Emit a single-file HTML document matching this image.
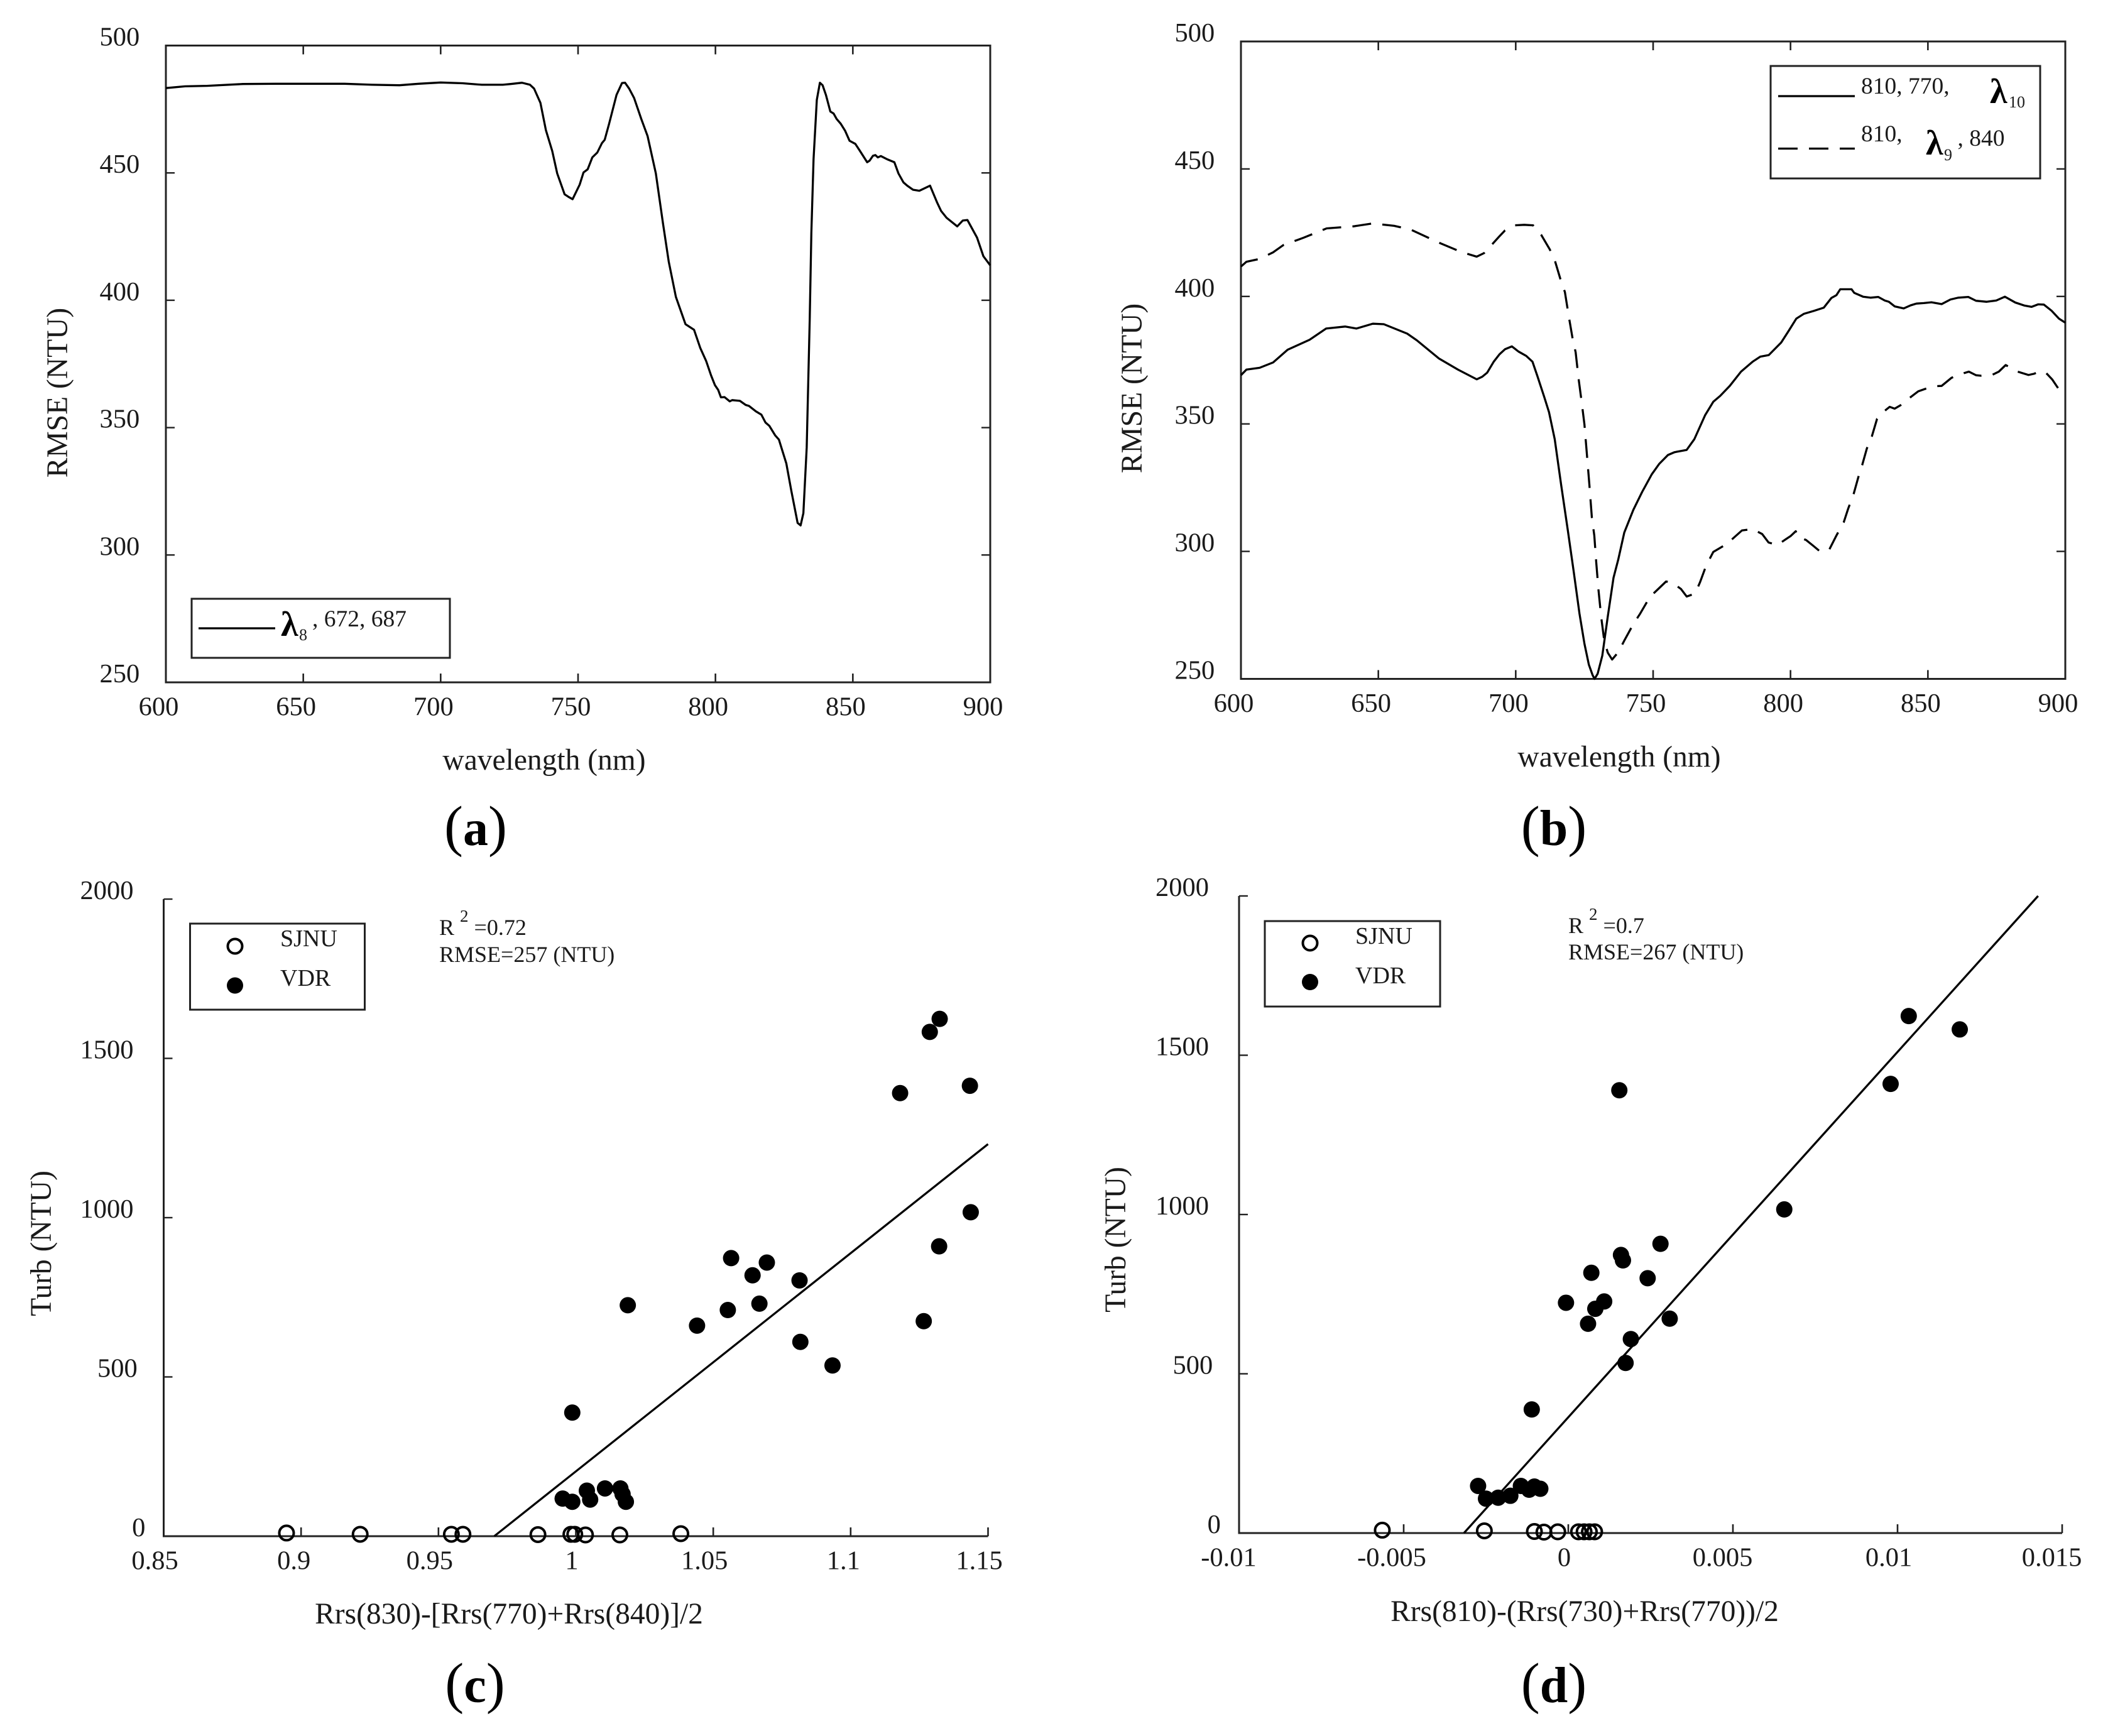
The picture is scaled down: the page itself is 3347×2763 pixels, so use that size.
<!DOCTYPE html>
<html lang="en">
<head>
<meta charset="utf-8">
<title>RMSE spectra and turbidity regressions</title>
<style>
html,body{margin:0;padding:0;background:#fff;}
svg{display:block;}
text{font-family:"Liberation Serif",serif;fill:#1a1a1a;}
.lam{font-weight:bold;font-size:56px;fill:#000;}
.sub{font-size:26px;}
.leg{font-size:37.5px;}
.legn{font-size:38px;}
.ann{font-size:36px;}
.cap{font-size:90px;fill:#000;}
.capb{font-weight:bold;font-size:80px;}
.axt{font-size:47.5px;}
.tick{font-size:42.5px;}
</style>
</head>
<body>
<svg id="figure" xmlns="http://www.w3.org/2000/svg" width="3347" height="2763" viewBox="0 0 3347 2763">
<rect width="3347" height="2763" fill="#fff"></rect>
<g id="panelA"></g>
<g id="panelB"></g>
<g id="panelC"></g>
<g id="panelD"></g>

<text class="axt" transform="translate(107,625) rotate(-90)" text-anchor="middle">RMSE (NTU)</text>
<text class="axt" x="866" y="1225" text-anchor="middle">wavelength (nm)</text>
<text class="cap" x="757" y="1345" text-anchor="middle">(<tspan class="capb">a</tspan>)</text>

<text class="axt" transform="translate(1817,618) rotate(-90)" text-anchor="middle">RMSE (NTU)</text>
<text class="axt" x="2577" y="1220" text-anchor="middle">wavelength (nm)</text>
<text class="cap" x="2473" y="1345" text-anchor="middle">(<tspan class="capb">b</tspan>)</text>

<text class="axt" transform="translate(81,1979) rotate(-90)" text-anchor="middle">Turb (NTU)</text>
<text class="axt" x="810" y="2584" text-anchor="middle">Rrs(830)-[Rrs(770)+Rrs(840)]/2</text>
<text class="cap" x="756" y="2709" text-anchor="middle">(<tspan class="capb">c</tspan>)</text>

<text class="axt" transform="translate(1791,1973) rotate(-90)" text-anchor="middle">Turb (NTU)</text>
<text class="axt" x="2522" y="2580" text-anchor="middle">Rrs(810)-(Rrs(730)+Rrs(770))/2</text>
<text class="cap" x="2473" y="2709" text-anchor="middle">(<tspan class="capb">d</tspan>)</text>

<g>
  <rect x="305" y="953" width="411" height="94" fill="#fff" stroke="#222" stroke-width="3"></rect>
  <line x1="316" y1="1000" x2="438" y2="1000" stroke="#000" stroke-width="3.3"></line>
  <text class="lam" x="447" y="1012">λ</text>
  <text class="sub" x="476" y="1019">8</text>
  <text class="leg" x="497" y="997">, 672, 687</text>
</g>

<g>
  <rect x="2818" y="105" width="429" height="179" fill="#fff" stroke="#222" stroke-width="3"></rect>
  <line x1="2830" y1="153" x2="2952" y2="153" stroke="#000" stroke-width="3.3"></line>
  <text class="leg" x="2962" y="149">810, 770,</text>
  <text class="lam" x="3167" y="164">λ</text>
  <text class="sub" x="3197" y="171">10</text>
  <line x1="2830" y1="236.5" x2="2952" y2="236.5" stroke="#000" stroke-width="3.3" stroke-dasharray="31 18"></line>
  <text class="leg" x="2962" y="225">810,</text>
  <text class="lam" x="3065" y="246">λ</text>
  <text class="sub" x="3094" y="255">9</text>
  <text class="leg" x="3115.5" y="232">, 840</text>
</g>

<g>
  <rect x="302.5" y="1470" width="278" height="137" fill="#fff" stroke="#222" stroke-width="3"></rect>
  <circle cx="374" cy="1506" r="11.5" fill="#fff" stroke="#000" stroke-width="4"></circle>
  <circle cx="374" cy="1568.5" r="13" fill="#000"></circle>
  <text class="legn" x="446" y="1506">SJNU</text>
  <text class="legn" x="446" y="1569">VDR</text>
</g>
<text class="ann" x="699" y="1488">R <tspan dy="-21" font-size="27">2</tspan><tspan dy="21"> =0.72</tspan></text>
<text class="ann" x="699" y="1531">RMSE=257 (NTU)</text>

<g>
  <rect x="2013" y="1466" width="279" height="136" fill="#fff" stroke="#222" stroke-width="3"></rect>
  <circle cx="2085" cy="1501" r="11.5" fill="#fff" stroke="#000" stroke-width="4"></circle>
  <circle cx="2085" cy="1563" r="13" fill="#000"></circle>
  <text class="legn" x="2157" y="1502">SJNU</text>
  <text class="legn" x="2157" y="1565">VDR</text>
</g>
<text class="ann" x="2496" y="1485">R <tspan dy="-21" font-size="27">2</tspan><tspan dy="21"> =0.7</tspan></text>
<text class="ann" x="2496" y="1527">RMSE=267 (NTU)</text>
</svg>

<script>
const wavelengthTicks = [600,650,700,750,800,850,900];
const rmseTicks = [250,300,350,400,450,500];
const turbTicks = [0,500,1000,1500,2000];
const cXTicks = [0.85,0.9,0.95,1,1.05,1.1,1.15];
const dXTicks = [-0.01,-0.005,0,0.005,0.01,0.015];

const aWavelength = [600,607,615,628,640,665,675,685,692,700,708,715,722.6,725.5,729.6,732.5,734,736.3,738.3,740.6,742.4,745.1,746.5,748,750.6,752,753.5,755.2,757,758.7,759.7,761.3,764,766,767.1,768.6,770.4,773,775.3,778.3,780.9,783,785.6,789.1,792.2,794.5,796.6,798.4,799.8,801,802,803.3,805.2,806.1,808.9,811,812.2,814.7,816.7,818.2,819.6,821.7,823.1,825.8,827.6,829.9,831,832,833.2,834.3,834.9,835.7,836.9,838,839,840.2,841.8,843,844.1,845.6,847.2,848.8,850.9,852.6,855.2,856.1,857.3,858.2,859.1,860.2,862.6,865.1,866.6,868.4,869.8,871.9,874.2,878.1,880.6,882.1,884.1,888,890,891.7,895.2,897.5,900];
const aRmse = [483.3,484,484.2,484.9,485,485,484.6,484.4,485,485.5,485.2,484.6,484.6,484.9,485.4,484.6,483.1,477.5,466.8,458.6,449.8,441.6,440.6,439.7,445.4,450.2,451.4,456.1,458,461.7,463,469.3,480.6,485.3,485.4,483.1,479.4,471.2,464.5,449.8,430.3,415.2,401.3,390.6,388.4,381.2,376.2,370.5,366.7,364.8,361.9,362,360.3,360.8,360.5,358.9,358.5,356.4,355.1,352,350.7,347,345.3,335.9,325.2,312.6,311.6,316.4,342.2,392.5,426.5,455.4,478.7,485.4,484.4,480.6,474.1,473.3,471.2,469.3,466.5,462.6,461.4,458.6,454.2,454.8,456.7,457,456.1,456.6,455.3,454.2,449.8,446.3,445,443.4,443,445,438.5,435.1,432.4,429,431.3,431.5,424.6,417.3,413.7];

const bSolidWavelength = [600,602,606.8,611.7,617,625,631,638,642,648,652,660.5,664,672,679,685.8,687.8,689.6,692,694.1,696.1,698.6,701,703.8,706.1,707.9,710.4,712.1,714.2,716.5,719,721.1,723.2,725,726.6,728,728.7,729.8,731.5,733.5,735.6,737.3,739.5,742.8,746,749.5,752.2,755.4,757.8,762.2,765,768.9,771.9,774.4,777.9,782,786.2,789,792.1,796.6,799.4,802.1,804.9,808.4,812.1,814.9,816.7,818.1,822.2,823.2,826.4,829.1,831.9,834.3,835.8,837.9,841.2,843.7,845.8,848.5,851.3,855,858.2,861,864.7,867.5,871.4,874.9,878,881.8,885.2,887.7,890.1,892.2,895,897.7,900];
const bSolidRmse = [369.1,371.3,372,374.1,379.1,383,387.4,388.2,387.4,389.3,389.1,385.4,382.8,375.7,371.3,367.5,368.5,370.1,374.4,377.3,379.3,380.4,378.4,376.7,374.4,368.7,360.5,354.6,344,326.3,308,292.1,275.6,263.8,255.6,251.4,250,252,259.1,274.4,289.7,296.8,307.4,316.3,323.3,330.2,334.3,337.8,338.9,339.8,344,353.4,358.7,361,364.9,370.5,374.4,376.4,377,381.9,386.6,391.3,393.2,394.3,395.6,399.4,400.5,402.8,402.8,401.4,399.9,399.5,399.8,398.4,397.9,396.1,395.3,396.5,397.2,397.4,397.7,397,398.8,399.5,399.8,398.3,397.9,398.4,399.9,397.6,396.4,395.9,396.9,396.8,394.4,391.3,389.7];

const bDashedWavelength = [600,602,606.8,611.7,615.4,622.7,631.2,641,647.9,655.7,661.8,672.7,680,685.8,688.5,691.3,694,696.1,699.6,703.1,706.3,709.3,712.4,714.4,716.2,717.9,719.3,720.7,721.8,722.9,723.9,725,726,726.8,727.7,728.6,729.3,730.1,731.1,732.2,733.5,735.1,737.4,739.5,742.8,745.3,748.8,751.6,754.7,757,760.1,762.2,765.3,767.1,769.3,771.9,776.8,780,782.3,786.2,789.7,792,795.2,798.2,800,801.9,802.8,805.6,808.4,810.4,813.9,816.7,819.4,821,822.9,824.7,826.1,827.8,829.6,831.5,834.7,836.1,837.9,840,843.7,846.5,849.2,853.1,855,858.6,863.1,864.9,867.5,869.3,873.5,875.8,878.3,882.7,886.6,888.7,890.8,893.1,895.2,897.4,900];
const bDashedRmse = [411.7,413.6,414.7,417.3,420.1,423,426.7,427.5,428.6,427.7,426.2,420.8,417.5,415.6,417,420.3,423.5,425.9,427.9,428.1,427.9,424.1,418.4,413.5,407,401.7,392.3,383.4,378.1,367.5,359.3,349.8,336.9,326.3,313.3,306.2,295.6,285,274.4,265,260.3,257.6,260.6,265,271.5,275.6,282.1,285,288.2,287.7,285.3,282.3,283.5,288,294.4,299.8,302.9,306,308.2,308.8,306.8,303.5,302.5,304.7,306,307.9,305.6,304.5,302.1,300.3,300.3,306.2,311.5,316.8,322.2,329.2,333.9,340.4,345.1,352,355.5,356.7,356,357.3,360.5,362.8,363.8,364.8,364.9,368.1,369.9,370.5,369.1,368.9,369.3,370.5,373.1,370.5,369.2,369.7,370.7,369.9,367.5,364,362];

const cVdrX = [1.1324,1.1288,1.118,1.1434,1.1437,1.1322,1.1266,1.0565,1.0695,1.0643,1.0814,1.0189,1.0668,1.0553,1.0441,1.0817,1.0934,0.9987,0.9952,0.9987,1.004,1.0052,1.0106,1.0162,1.017,1.0182];
const cVdrY = [1624,1583,1391,1414,1017,910,675,873,859,819,803,725,730,710,661,610,536,388,118,108,143,115,150,150,132,108];
const cSjnuX = [0.8947,0.9215,0.9547,0.9589,0.9862,0.9982,0.9996,1.0035,1.016,1.0382];
const cSjnuY = [10,6,6,6,5,6,6,4,4,8];
const cFitX = [0.9703,1.15];
const cFitY = [0,1231];

const dVdrX = [0.01034,0.01189,0.00979,0.00155,0.00656,0.0028,0.0016,0.00166,0.0007,0.00241,-0.00007,0.00109,0.00082,0.0006,0.0019,0.00308,0.00174,-0.00111,-0.00274,-0.0025,-0.00213,-0.00176,-0.00144,-0.00119,-0.00103,-0.00085];
const dVdrY = [1623,1581,1410,1390,1016,908,873,856,817,800,723,727,704,657,609,673,534,388,148,108,111,117,148,136,146,139];
const dSjnuX = [-0.00565,-0.00255,-0.00103,-0.00074,-0.00032,0.00031,0.00048,0.00064,0.0008];
const dSjnuY = [9,7,5,3,4,4,4,4,4];
const dFitX = [-0.00317,0.01427];
const dFitY = [0,2000];

const SVGNS = 'http://www.w3.org/2000/svg';

function make(tag, attrs, parent) {
  const el = document.createElementNS(SVGNS, tag);
  for (const k in attrs) el.setAttribute(k, attrs[k]);
  parent.appendChild(el);
  return el;
}

function scale(d0, d1, r0, r1) {
  return function (v) { return r0 + (v - d0) / (d1 - d0) * (r1 - r0); };
}

const TICK = 14;
const AXIS_COLOR = '#222';

function drawAxes(parent, name, f, sx, sy, xTicks, yTicks, boxed) {
  if (boxed) {
    const box = make('rect', {x: f.left, y: f.top, width: f.right - f.left, height: f.bottom - f.top, fill: 'none', stroke: AXIS_COLOR, 'stroke-width': 3}, parent);
    
    
  } else {
    const ax = make('line', {x1: f.left - 1.5, y1: f.bottom, x2: f.right, y2: f.bottom, stroke: AXIS_COLOR, 'stroke-width': 3}, parent);
    
    
    const ay = make('line', {x1: f.left, y1: f.top, x2: f.left, y2: f.bottom, stroke: AXIS_COLOR, 'stroke-width': 3}, parent);
    
    
  }
  xTicks.forEach(function (v) {
    const x = sx(v);
    const t = make('line', {x1: x, y1: f.bottom, x2: x, y2: f.bottom - TICK, stroke: AXIS_COLOR, 'stroke-width': 2.6}, parent);
    
    
    if (boxed) {
      const t2 = make('line', {x1: x, y1: f.top, x2: x, y2: f.top + TICK, stroke: AXIS_COLOR, 'stroke-width': 2.6}, parent);
      
      
    }
    const s = String(v);
    const lab = make('text', {x: x - 4 - 2.5 * s.length, y: f.bottom + 52.5, 'text-anchor': 'middle', 'class': 'tick'}, parent);
    lab.textContent = s;
    
    
  });
  yTicks.forEach(function (v) {
    const y = sy(v);
    const t = make('line', {x1: f.left, y1: y, x2: f.left + TICK, y2: y, stroke: AXIS_COLOR, 'stroke-width': 2.4}, parent);
    
    
    if (boxed) {
      const t2 = make('line', {x1: f.right, y1: y, x2: f.right - TICK, y2: y, stroke: AXIS_COLOR, 'stroke-width': 2.4}, parent);
      
      
    }
    const s = String(v);
    const lab = make('text', {x: f.left - 48 + (4 - s.length) * 6.3, y: y, 'text-anchor': 'end', 'class': 'tick'}, parent);
    lab.textContent = s;
    
    
  });
}

function drawLine(parent, name, xs, ys, sx, sy, dash) {
  const pts = xs.map(function (x, i) { return sx(x).toFixed(1) + ',' + sy(ys[i]).toFixed(1); }).join(' ');
  const attrs = {points: pts, fill: 'none', stroke: '#000', 'stroke-width': 3.3, 'stroke-linejoin': 'round'};
  if (dash) attrs['stroke-dasharray'] = dash;
  const el = make('polyline', attrs, parent);
  
  
}

function drawPoints(parent, name, xs, ys, sx, sy, open) {
  xs.forEach(function (x, i) {
    const attrs = open
      ? {cx: sx(x), cy: sy(ys[i]), r: 11.5, fill: 'none', stroke: '#000', 'stroke-width': 4}
      : {cx: sx(x), cy: sy(ys[i]), r: 13, fill: '#000'};
    const el = make('circle', attrs, parent);
    
    
  });
}

const frameA = {left: 264, right: 1576, top: 72.5, bottom: 1086};
const frameB = {left: 1975, right: 3287, top: 66, bottom: 1080.5};
const frameC = {left: 260.5, right: 1572.5, top: 1431, bottom: 2445};
const frameD = {left: 1972, right: 3282, top: 1426, bottom: 2440};

const ax = scale(600, 900, frameA.left, frameA.right);
const ay = scale(250, 500, frameA.bottom, frameA.top);
const gA = document.getElementById('panelA');
drawAxes(gA, 'panel-a', frameA, ax, ay, wavelengthTicks, rmseTicks, true);
drawLine(gA, 'panel-a-rmse-curve', aWavelength, aRmse, ax, ay);

const bx = scale(600, 900, frameB.left, frameB.right);
const by = scale(250, 500, frameB.bottom, frameB.top);
const gB = document.getElementById('panelB');
drawAxes(gB, 'panel-b', frameB, bx, by, wavelengthTicks, rmseTicks, true);
drawLine(gB, 'panel-b-solid-curve', bSolidWavelength, bSolidRmse, bx, by);
drawLine(gB, 'panel-b-dashed-curve', bDashedWavelength, bDashedRmse, bx, by, '30 18');

const cx = scale(0.85, 1.15, frameC.left, frameC.right);
const cy = scale(0, 2000, frameC.bottom, frameC.top);
const gC = document.getElementById('panelC');
drawAxes(gC, 'panel-c', frameC, cx, cy, cXTicks, turbTicks, false);
drawLine(gC, 'panel-c-fit-line', cFitX, cFitY, cx, cy);
drawPoints(gC, 'panel-c-sjnu-point', cSjnuX, cSjnuY, cx, cy, true);
drawPoints(gC, 'panel-c-vdr-point', cVdrX, cVdrY, cx, cy, false);

const dx = scale(-0.01, 0.015, frameD.left, frameD.right);
const dy = scale(0, 2000, frameD.bottom, frameD.top);
const gD = document.getElementById('panelD');
drawAxes(gD, 'panel-d', frameD, dx, dy, dXTicks, turbTicks, false);
drawLine(gD, 'panel-d-fit-line', dFitX, dFitY, dx, dy);
drawPoints(gD, 'panel-d-sjnu-point', dSjnuX, dSjnuY, dx, dy, true);
drawPoints(gD, 'panel-d-vdr-point', dVdrX, dVdrY, dx, dy, false);
</script>
</body>
</html>
